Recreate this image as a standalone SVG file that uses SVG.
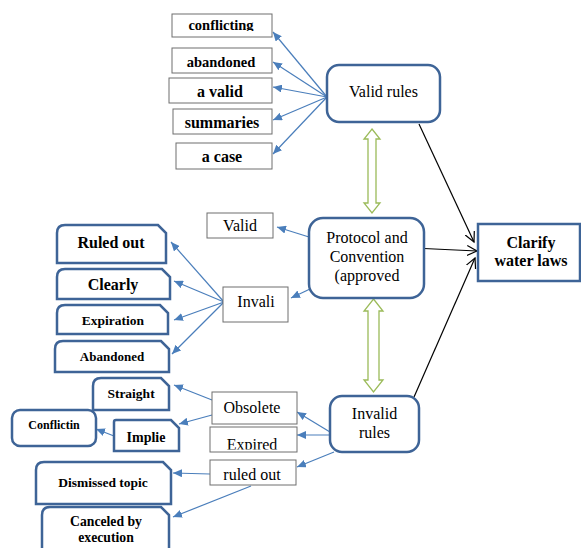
<svg xmlns="http://www.w3.org/2000/svg" width="581" height="548" viewBox="0 0 581 548">
<style>
  .thin{fill:#fff;stroke:#6e6e6e;stroke-width:1}
  .thick{fill:#fff;stroke:#3e6497;stroke-width:2.5}
  .t{font-family:"Liberation Serif",serif;fill:#000;text-anchor:middle}
  .b{font-weight:bold}
  .blue{stroke:#4a7ebb;stroke-width:1.2;fill:none;marker-end:url(#ba)}
  .blk{stroke:#000;stroke-width:1.2;fill:none;marker-end:url(#ka)}
  .grn{fill:#fff;stroke:#9bbb59;stroke-width:1.3}
</style>
<defs>
  <marker id="ba" markerUnits="userSpaceOnUse" markerWidth="10" markerHeight="8" refX="9" refY="4" orient="auto">
    <path d="M0,0 L9,4 L0,8 Z" fill="#4a7ebb"/>
  </marker>
  <marker id="ka" markerUnits="userSpaceOnUse" markerWidth="12" markerHeight="12" refX="10" refY="6" orient="auto">
    <path d="M0,1 L10,6 L0,11" fill="none" stroke="#000" stroke-width="1.2"/>
  </marker>
  <clipPath id="c1"><rect x="172" y="14" width="100" height="17"/></clipPath>
  <clipPath id="c2"><rect x="210" y="427" width="87" height="22.5"/></clipPath>
</defs>

<g id="connectors">
  <line class="blue" x1="327" y1="97" x2="273" y2="32"/>
  <line class="blue" x1="327" y1="97" x2="273" y2="62"/>
  <line class="blue" x1="327" y1="97" x2="273" y2="87"/>
  <line class="blue" x1="327" y1="97" x2="273" y2="120"/>
  <line class="blue" x1="327" y1="97" x2="273" y2="154"/>
  <line class="blue" x1="309" y1="237" x2="277" y2="227"/>
  <line class="blue" x1="310" y1="289" x2="291" y2="298"/>
  <line class="blue" x1="224" y1="302" x2="171" y2="242"/>
  <line class="blue" x1="224" y1="302" x2="174" y2="281"/>
  <line class="blue" x1="224" y1="302" x2="174" y2="320"/>
  <line class="blue" x1="224" y1="302" x2="172" y2="354"/>
  <line class="blue" x1="330" y1="432" x2="297" y2="412"/>
  <line class="blue" x1="330" y1="435" x2="297" y2="435"/>
  <line class="blue" x1="334" y1="452" x2="297" y2="467"/>
  <line class="blue" x1="212" y1="400" x2="174" y2="385"/>
  <line class="blue" x1="212" y1="415" x2="179" y2="424"/>
  <line class="blue" x1="114" y1="436" x2="96" y2="429"/>
  <line class="blue" x1="210" y1="474" x2="173" y2="473"/>
  <line class="blue" x1="251" y1="486" x2="173" y2="517"/>
  <line class="blk" x1="419" y1="124" x2="474" y2="242"/>
  <line class="blk" x1="413" y1="248" x2="477" y2="251"/>
  <line class="blk" x1="414" y1="397" x2="475" y2="258"/>
  <path class="grn" d="M372,129 L380,139 L376,139 L376,203 L380,203 L372,213 L364,203 L368,203 L368,139 L364,139 Z"/>
  <path class="grn" d="M373.5,299 L383,311 L379,311 L379,380 L383,380 L373.5,392 L364,380 L368,380 L368,311 L364,311 Z"/>
</g>

<g id="n-conflicting"><rect class="thin" x="172" y="14" width="100" height="23"/><text class="t b" x="221" y="30" font-size="14.5" clip-path="url(#c1)">conflicting</text></g>
<g id="n-abandoned"><rect class="thin" x="172" y="48" width="100" height="25"/><text class="t b" x="221" y="67" font-size="14.5">abandoned</text></g>
<g id="n-avalid"><rect class="thin" x="169" y="78" width="103" height="25"/><text class="t b" x="220" y="97" font-size="16">a valid</text></g>
<g id="n-summaries"><rect class="thin" x="173" y="109" width="99" height="25"/><text class="t b" x="222" y="128" font-size="16">summaries</text></g>
<g id="n-acase"><rect class="thin" x="176" y="143" width="96" height="26"/><text class="t b" x="222" y="162" font-size="16">a case</text></g>

<g id="n-validrules"><rect class="thick" x="327" y="65" width="113" height="57" rx="12"/><text class="t" x="383.5" y="97" font-size="16">Valid rules</text></g>
<g id="n-protocol"><rect class="thick" x="309" y="218" width="115" height="80" rx="14"/>
  <text class="t" x="367" y="243" font-size="16">Protocol and</text>
  <text class="t" x="367" y="262" font-size="16">Convention</text>
  <text class="t" x="367" y="281" font-size="16">(approved</text></g>
<g id="n-clarify"><rect class="thick" x="478" y="224" width="102" height="57"/>
  <text class="t b" x="531" y="248" font-size="16">Clarify</text>
  <text class="t b" x="531" y="266" font-size="16">water laws</text></g>
<g id="n-invalidrules"><rect class="thick" x="330" y="396" width="89" height="56" rx="12"/>
  <text class="t" x="374.5" y="419" font-size="16">Invalid</text>
  <text class="t" x="374.5" y="438" font-size="16">rules</text></g>

<g id="n-valid"><rect class="thin" x="207" y="213" width="66" height="25"/><text class="t" x="240" y="231" font-size="16">Valid</text></g>
<g id="n-invali"><rect class="thin" x="223" y="287" width="65" height="35"/><text class="t" x="256" y="307" font-size="16">Invali</text></g>

<g id="n-ruledout"><path class="thick" d="M57,263 V233 Q57,225 65,225 H158 L166,233 V263 Z"/><text class="t b" x="111" y="248" font-size="16">Ruled out</text></g>
<g id="n-clearly"><path class="thick" d="M57,299 V277 Q57,269 65,269 H162 L170,277 V299 Z"/><text class="t b" x="113" y="290" font-size="16">Clearly</text></g>
<g id="n-expiration"><path class="thick" d="M57,334 V313 Q57,305 65,305 H160 L168,313 V334 Z"/><text class="t b" x="113" y="325" font-size="13.5">Expiration</text></g>
<g id="n-abandoned2"><path class="thick" d="M55,372 V349 Q55,341 63,341 H161 L169,349 V372 Z"/><text class="t b" x="112" y="361" font-size="13">Abandoned</text></g>

<g id="n-obsolete"><rect class="thin" x="212" y="392" width="85" height="32"/><text class="t" x="252" y="413" font-size="16">Obsolete</text></g>
<g id="n-expired"><rect class="thin" x="210" y="427" width="87" height="25"/><text class="t" x="252" y="450" font-size="16" clip-path="url(#c2)">Expired</text></g>
<g id="n-ruledout2"><rect class="thin" x="210" y="460" width="86" height="25"/><text class="t" x="252" y="480" font-size="16">ruled out</text></g>

<g id="n-straight"><path class="thick" d="M93,410 V386 Q93,378 101,378 H161 L169,386 V410 Z"/><text class="t b" x="131" y="398" font-size="13.5">Straight</text></g>
<g id="n-conflictin"><rect class="thick" x="12" y="410" width="84" height="36" rx="8"/><text class="t b" x="54" y="429" font-size="12">Conflictin</text></g>
<g id="n-implie"><path class="thick" d="M114,451 V422 Q114,420 116,420 H171 L179,428 V451 Z"/><text class="t b" x="146" y="442" font-size="14">Implie</text></g>
<g id="n-dismissed"><path class="thick" d="M36,504 V470 Q36,462 44,462 H163 L171,470 V504 Z"/><text class="t b" x="103" y="487" font-size="13.5">Dismissed topic</text></g>
<g id="n-canceled"><path class="thick" d="M42,550 V515 Q42,507 50,507 H161 L169,515 V550"/>
  <text class="t b" x="106" y="526" font-size="13.7">Canceled by</text>
  <text class="t b" x="106" y="542" font-size="13.7">execution</text></g>
</svg>
